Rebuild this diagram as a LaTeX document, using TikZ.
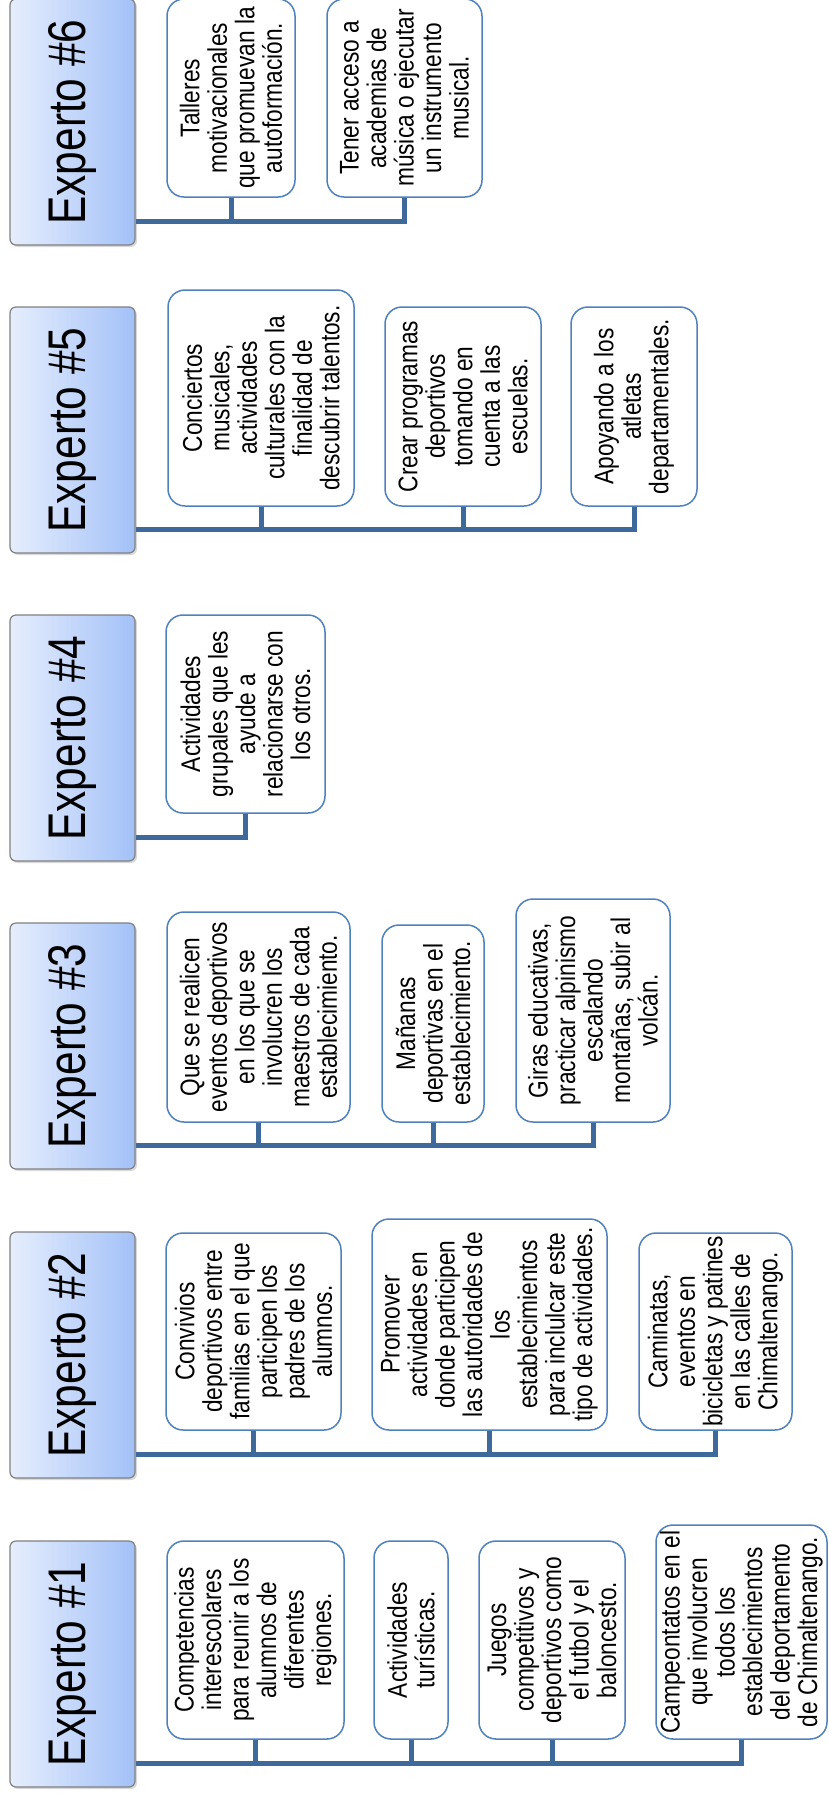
\documentclass[tikz,border=0pt]{standalone}
\usepackage{fontspec}
\setmainfont{Liberation Sans}[FakeStretch=0.84]
\newfontfamily\headfam{Liberation Sans}[FakeStretch=0.80]
\usetikzlibrary{shadows}
\definecolor{boxblue}{RGB}{79,129,189}
\definecolor{linkblue}{RGB}{62,106,155}
\definecolor{headlight}{RGB}{230,238,253}
\definecolor{headdark}{RGB}{163,193,248}
\newcommand{\boxfont}{\fontsize{27}{27.5}\selectfont}
\newcommand{\headfont}{\headfam\fontsize{53}{60}\selectfont}

\begin{document}
\begin{tikzpicture}
    [   x=1pt,y=-1pt,
        expert/.style={draw=gray,line width=1.2pt,rounded corners=6pt,
            left color=headlight,right color=headdark,font=\headfont,
            minimum width=125pt,minimum height=246pt,inner sep=0pt,
            drop shadow={shadow xshift=2pt,shadow yshift=-2pt,opacity=0.3}},
        idea/.style 2 args={rotate=90,draw=boxblue,line width=1.5pt,fill=white,
            rounded corners=17pt,align=center,inner sep=0pt,font=\boxfont,
            minimum height=#1pt,minimum width=#2pt},
        link/.style={draw=linkblue,line width=5pt},
    ]
        \useasboundingbox (0,0) rectangle (828,1797);
        \foreach \n/\y in {1/1664,2/1355,3/1046,4/738,5/430,6/122}
        {   \node[expert] (e\n) at (72.5,\y) {\rotatebox{90}{Experto \#\n}};
            \coordinate (l\n) at ([yshift=24pt]e\n.south east);
        }
        % Experto #1
        \node[idea={177}{198}] (c1-1) at (255.5,1640) {Competencias\\interescolares\\para reunir a los\\alumnos de\\diferentes\\regiones.};
        \node[idea={74}{198}] (c1-2) at (411,1640) {Actividades\\turísticas.};
        \node[idea={146}{198}] (c1-3) at (552,1640) {Juegos\\competitivos y\\deportivos como\\el futbol y el\\baloncesto.};
        \node[idea={171}{214}] (c1-4) at (741.5,1632) {Campeontatos en el\\que involucren\\todos los\\establecimientos\\del deportamento\\de Chimaltenango.};
        % Experto #2
        \node[idea={175}{197}] (c2-1) at (253.5,1331.5) {Convivios\\deportivos entre\\familias en el que\\participen los\\padres de los\\alumnos.};
        \node[idea={235}{211}] (c2-2) at (489.5,1324.5) {Promover\\actividades en\\donde participen\\las autoridades de\\los\\establecimientos\\para inclulcar este\\tipo de actividades.};
        \node[idea={153}{197}] (c2-3) at (715.5,1331.5) {Caminatas,\\eventos en\\bicicletas y patines\\en las calles de\\Chimaltenango.};
        % Experto #3
        \node[idea={183}{210}] (c3-1) at (258.5,1017) {Que se realicen\\eventos deportivos\\en los que se\\involucren los\\maestros de cada\\establecimiento.};
        \node[idea={102}{197}] (c3-2) at (433,1023.5) {Mañanas\\deportivas en el\\establecimiento.};
        \node[idea={154}{223}] (c3-3) at (593,1010.5) {Giras educativas,\\practicar alpinismo\\escalando\\montañas, subir al\\volcán.};
        % Experto #4
        \node[idea={159}{198}] (c4-1) at (245.5,714) {Actividades\\grupales que les\\ayude a\\relacionarse con\\los otros.};
        % Experto #5
        \node[idea={186}{216}] (c5-1) at (261,398) {Conciertos\\musicales,\\actividades\\culturales con la\\finalidad de\\descubrir talentos.};
        \node[idea={156}{199}] (c5-2) at (463,406.5) {Crear programas\\deportivos\\tomando en\\cuenta a las\\escuelas.};
        \node[idea={126}{199}] (c5-3) at (634,406.5) {Apoyando a los\\atletas\\departamentales.};
        % Experto #6
        \node[idea={128}{198}] (c6-1) at (231,98) {Talleres\\motivacionales\\que promuevan la\\autoformación.};
        \node[idea={155}{198}] (c6-2) at (404.5,98) {Tener acceso a\\academias de\\música o ejecutar\\un instrumento\\musical.};
        % connectors
        \draw[link] (l1) -| (c1-4.west);
        \draw[link] (l2) -| (c2-3.west);
        \draw[link] (l3) -| (c3-3.west);
        \draw[link] (l4) -| (c4-1.west);
        \draw[link] (l5) -| (c5-3.west);
        \draw[link] (l6) -| (c6-2.west);
        \foreach \i in {1,2,3}
            \draw[link] (c1-\i.west) -- (c1-\i.west |- l1);
        \foreach \g/\i in {2/1,2/2,3/1,3/2,5/1,5/2,6/1}
            \draw[link] (c\g-\i.west) -- (c\g-\i.west |- l\g);
    \end{tikzpicture}
\end{document}
